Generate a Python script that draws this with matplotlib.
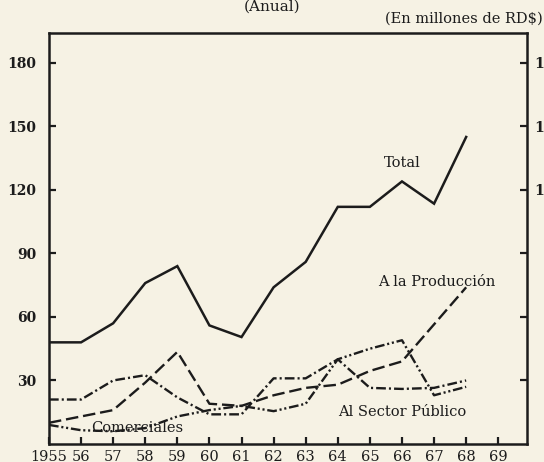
import matplotlib
matplotlib.use('Agg')
import matplotlib.pyplot as plt

years = list(range(1955, 1969))
total = [48, 48, 57, 76, 84, 56, 50.5, 74, 86, 112, 112, 124, 113.5, 145]
produccion = [10, 13, 16, 29, 43.5, 19, 18, 23, 26.5, 28, 34.5, 39, 56.5, 74]
sector_publico = [21, 21, 30, 32.5, 22, 14, 14, 31, 31, 40, 26.5, 26, 26.5, 30]
comerciales = [9, 6.5, 6, 7.5, 13, 16, 18, 15.5, 19, 40, 45, 49, 23, 27]

x_ticks = list(range(1955, 1970))
x_labels = ['1955'] + [str(y)[2:] for y in range(1956, 1970)]
y_ticks = [30, 60, 90, 120, 150, 180]
# right-hand labels are cut by the scan edge: only the first digit shows
right_labels = ['', '', '', '1', '1', '1']

bg = '#f6f2e4'
ink = '#1c1c1c'
plt.rcParams['font.family'] = 'DejaVu Serif'
plt.rcParams['lines.scale_dashes'] = False

fig = plt.figure(figsize=(5.44, 4.62), dpi=100, facecolor=bg)
ax = fig.add_axes([0.090, 0.039, 0.879, 0.890])
ax.set_facecolor(bg)

ax.plot(years, total, color=ink, lw=1.8, solid_joinstyle='miter')
ax.plot(years, produccion, color=ink, lw=1.7, dashes=(9, 3.5))
ax.plot(years, sector_publico, color=ink, lw=1.7, dashes=(7, 2.2, 1.5, 2.2))
ax.plot(years, comerciales, color=ink, lw=1.7, dashes=(7, 2, 1.5, 2, 1.5, 2))

ax.set_xlim(1955, 1969.9)
ax.set_ylim(0, 194.2)
ax.set_xticks(x_ticks)
ax.set_xticklabels(x_labels, fontsize=10.5)
ax.set_yticks(y_ticks)
ax.set_yticklabels([str(v) for v in y_ticks], fontsize=10, fontweight='bold')
ax.tick_params(axis='both', direction='in', length=5, width=1.6, colors=ink)
ax.tick_params(axis='x', pad=4)
ax.tick_params(axis='y', pad=9)
for s in ax.spines.values():
    s.set_linewidth(1.8)
    s.set_color(ink)

ax2 = ax.twinx()
ax2.set_ylim(ax.get_ylim())
ax2.set_yticks(y_ticks)
ax2.set_yticklabels(right_labels, fontsize=10, fontweight='bold')
ax2.tick_params(axis='y', direction='in', length=5, width=1.6, colors=ink, pad=5)
for s in ax2.spines.values():
    s.set_visible(False)

ax.text(1966.0, 132.5, 'Total', fontsize=10.5, ha='center', va='center', color=ink)
ax.text(1967.1, 76.5, 'A la Producción', fontsize=10.5, ha='center', va='center', color=ink)
ax.text(1966.0, 15, 'Al Sector Público', fontsize=10.5, ha='center', va='center', color=ink)
ax.text(1957.75, 7.5, 'Comerciales', fontsize=10.5, ha='center', va='center', color=ink)

fig.text(0.5, 0.976, '(Anual)', fontsize=11, ha='center', va='baseline', color=ink)
fig.text(0.997, 0.952, '(En millones de RD$)', fontsize=10.5, ha='right', va='baseline', color=ink)

fig.savefig('out.png', dpi=100, facecolor=bg)
